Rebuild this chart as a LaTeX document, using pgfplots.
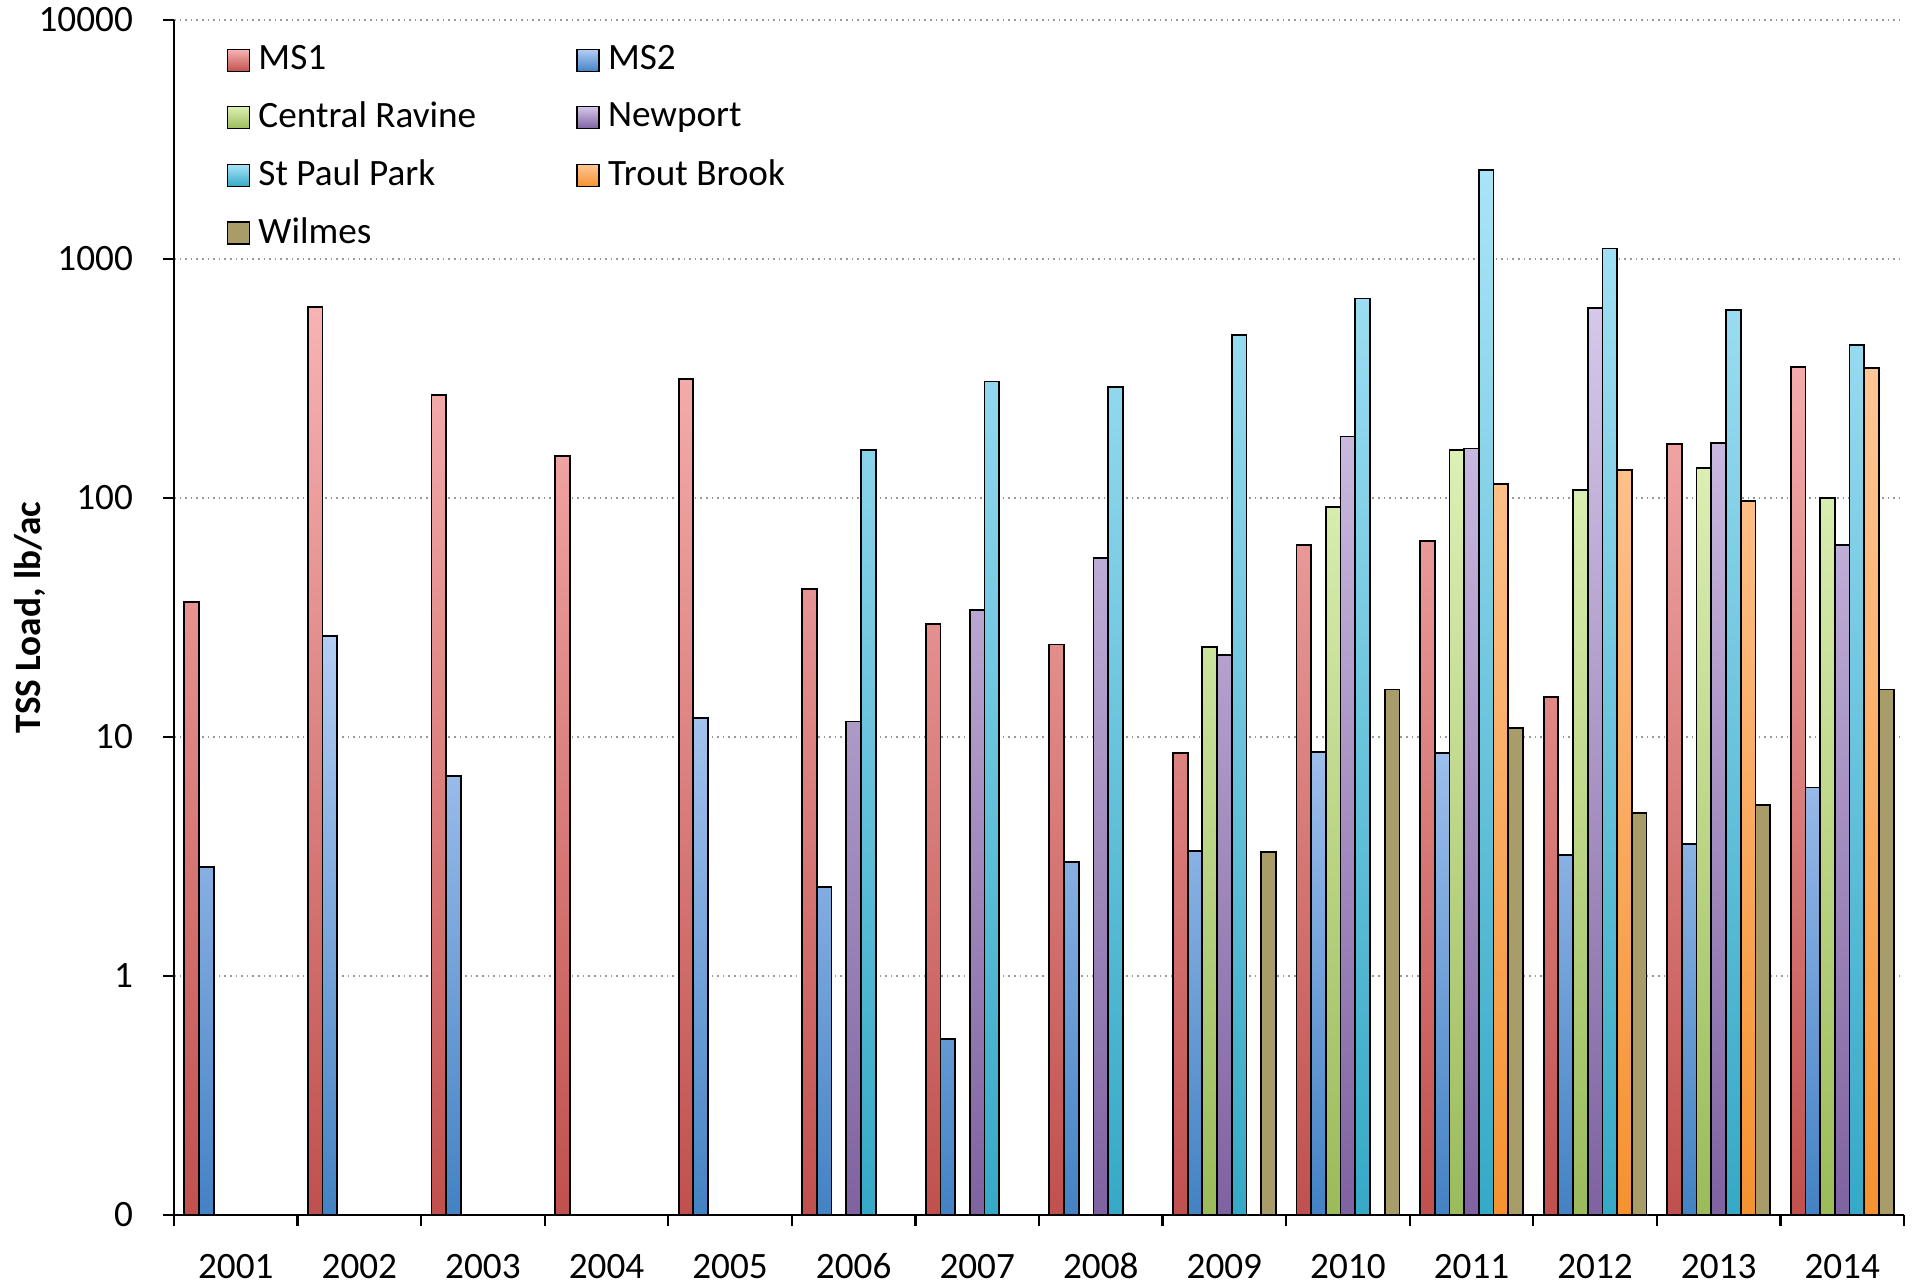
\documentclass[border=0pt]{standalone}
\usepackage{pgfplots}
\pgfplotsset{compat=1.18}
\usepackage{fontspec}
\setmainfont{Carlito}
\definecolor{ms1t}{HTML}{F7B3B2}\definecolor{ms1b}{HTML}{C0504D}
\definecolor{ms2t}{HTML}{B3CDF5}\definecolor{ms2b}{HTML}{4382C4}
\definecolor{crt}{HTML}{DDF0B5}\definecolor{crb}{HTML}{9BBB59}
\definecolor{npt}{HTML}{D5C8EA}\definecolor{npb}{HTML}{7F62A0}
\definecolor{spt}{HTML}{A9E4F8}\definecolor{spb}{HTML}{35A9C6}
\definecolor{tbt}{HTML}{FFC796}\definecolor{tbb}{HTML}{F59230}
\definecolor{wil}{HTML}{A89D68}
\begin{document}
\begin{tikzpicture}
\path[use as bounding box] (-43.5pt,-16.75pt) rectangle (435.75pt,303.75pt);
\begin{axis}[
  scale only axis, width=432.5pt, height=298.75pt,
  ymode=log, ymin=0.1, ymax=10000, log origin y=infty,
  xmin=-0.5, xmax=13.5,
  ybar, bar width=0.119,
  axis x line*=bottom, axis y line*=left,
  axis line style={black, line width=0.6pt},
  xtick={-0.5,0.5,...,13.5}, x tick label as interval,
  xticklabels={2001,2002,2003,2004,2005,2006,2007,2008,2009,2010,2011,2012,2013,2014},
  ytick={0.1,1,10,100,1000,10000},
  yticklabels={0,1,10,100,1000,10000},
  yminorticks=false,
  tick align=outside, major tick length=2.75pt,
  tick style={black, line width=0.6pt},
  ymajorgrids, grid style={densely dotted, gray!80, line width=0.4pt},
  font=\fontsize{9.3}{11}\selectfont,
  /pgf/number format/assume math mode=true,
  xticklabel style={yshift=-3pt, text height=6.6pt, text depth=0pt},
  yticklabel style={xshift=-4pt},
  every axis y label/.style={at={(axis description cs:-0.0832,0.5)}, rotate=90, anchor=center},
  ylabel={\textbf{TSS Load, lb/ac}},
  legend columns=2, legend cell align=left,
  legend image code/.code={\draw[#1] (0pt,-2.75pt) rectangle (5.5pt,2.75pt);},
  legend style={at={(axis description cs:0.03,0.986)}, anchor=north west, draw=none, fill=none, inner sep=0pt,
    font=\fontsize{9.3}{11}\selectfont, row sep=2.5pt,
    /tikz/every even column/.append style={column sep=23pt}},
  every axis plot/.append style={draw=black, line width=0.45pt},
]
\addplot[bar shift=-0.357, top color=ms1t, bottom color=ms1b] coordinates {(0,36.8)(1,629)(2,269)(3,150)(4,314)(5,41.5)(6,29.8)(7,24.4)(8,8.57)(9,63.4)(10,66)(11,14.7)(12,168)(13,353)};
\addplot[bar shift=-0.238, top color=ms2t, bottom color=ms2b] coordinates {(0,2.86)(1,26.5)(2,6.85)(4,12.0)(5,2.35)(6,0.545)(7,3.0)(8,3.34)(9,8.66)(10,8.6)(11,3.22)(12,3.58)(13,6.15)};
\addplot[bar shift=-0.119, top color=crt, bottom color=crb] coordinates {(8,23.8)(9,92)(10,159)(11,108)(12,133)(13,100)};
\addplot[bar shift=0, top color=npt, bottom color=npb] coordinates {(5,11.6)(6,34)(7,56.3)(8,22)(9,181)(10,161)(11,622)(12,170)(13,63.4)};
\addplot[bar shift=0.119, top color=spt, bottom color=spb] coordinates {(5,159)(6,307)(7,292)(8,480)(9,683)(10,2350)(11,1107)(12,614)(13,437)};
\addplot[bar shift=0.238, top color=tbt, bottom color=tbb] coordinates {(10,114)(11,131)(12,96.8)(13,349)};
\addplot[bar shift=0.357, fill=wil] coordinates {(8,3.3)(9,15.8)(10,10.9)(11,4.8)(12,5.2)(13,15.8)};
\legend{MS1,MS2,Central Ravine,Newport,St Paul Park,Trout Brook,Wilmes}
\end{axis}
\end{tikzpicture}
\end{document}
